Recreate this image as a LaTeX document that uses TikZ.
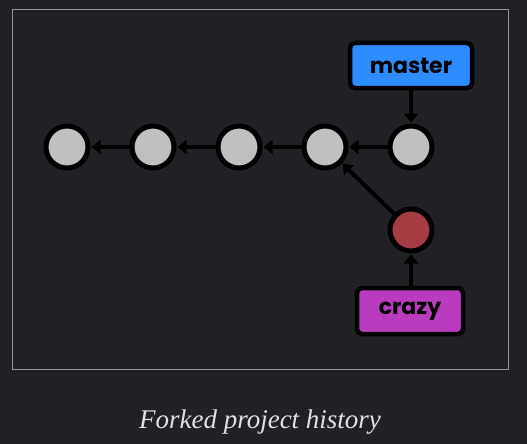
\documentclass[tikz,border=0pt]{standalone}
\usepackage{fontspec}
\setmainfont{Liberation Serif}
\newfontfamily\labelfont{Poppins}
\usetikzlibrary{arrows.meta}
\definecolor{bg}{RGB}{32,33,37}
\definecolor{frameclr}{RGB}{150,150,150}
\definecolor{commitfill}{RGB}{192,192,192}
\definecolor{redfill}{RGB}{165,60,68}
\definecolor{bluefill}{RGB}{45,140,255}
\definecolor{magfill}{RGB}{185,60,190}
\definecolor{captclr}{RGB}{225,225,225}
\begin{document}
\begin{tikzpicture}[x=1pt,y=-1pt,
  commit/.style={circle,draw=black,line width=5pt,fill=commitfill,minimum size=42pt,inner sep=0pt},
  redcommit/.style={commit,fill=redfill},
  branch/.style={rounded corners=5pt,draw=black,line width=4.5pt,inner sep=0pt,
    font=\labelfont\bfseries\fontsize{22}{26}\selectfont,text=black},
  link/.style={line width=4pt,-{Triangle[length=9pt,width=14pt]},black,shorten >=1pt}]
\fill[bg] (0,0) rectangle (527,444);
\useasboundingbox (0,0) rectangle (527,444);
\draw[frameclr,line width=0.8pt] (12,9) rectangle (508,369);
\node[commit] (c1) at (67,147) {};
\node[commit] (c2) at (153,147) {};
\node[commit] (c3) at (239,147) {};
\node[commit] (c4) at (325,147) {};
\node[commit] (c5) at (411,147) {};
\node[redcommit] (r) at (411,230) {};
\node[branch,fill=bluefill,minimum width=122pt,minimum height=45pt] (master) at (411,65.5) {master};
\node[branch,fill=magfill,minimum width=106pt,minimum height=46pt] (crazy) at (410,311) {crazy};
\draw[link] (c2) -- (c1);
\draw[link] (c3) -- (c2);
\draw[link] (c4) -- (c3);
\draw[link] (c5) -- (c4);
\draw[link] (master) -- (c5);
\draw[link] (crazy.north -| r) -- (r);
\draw[link] (r) -- (c4);
\node[text=captclr,font=\itshape\fontsize{27}{30}\selectfont] (cap) at (260,422) {Forked project history};
\end{tikzpicture}
\end{document}
